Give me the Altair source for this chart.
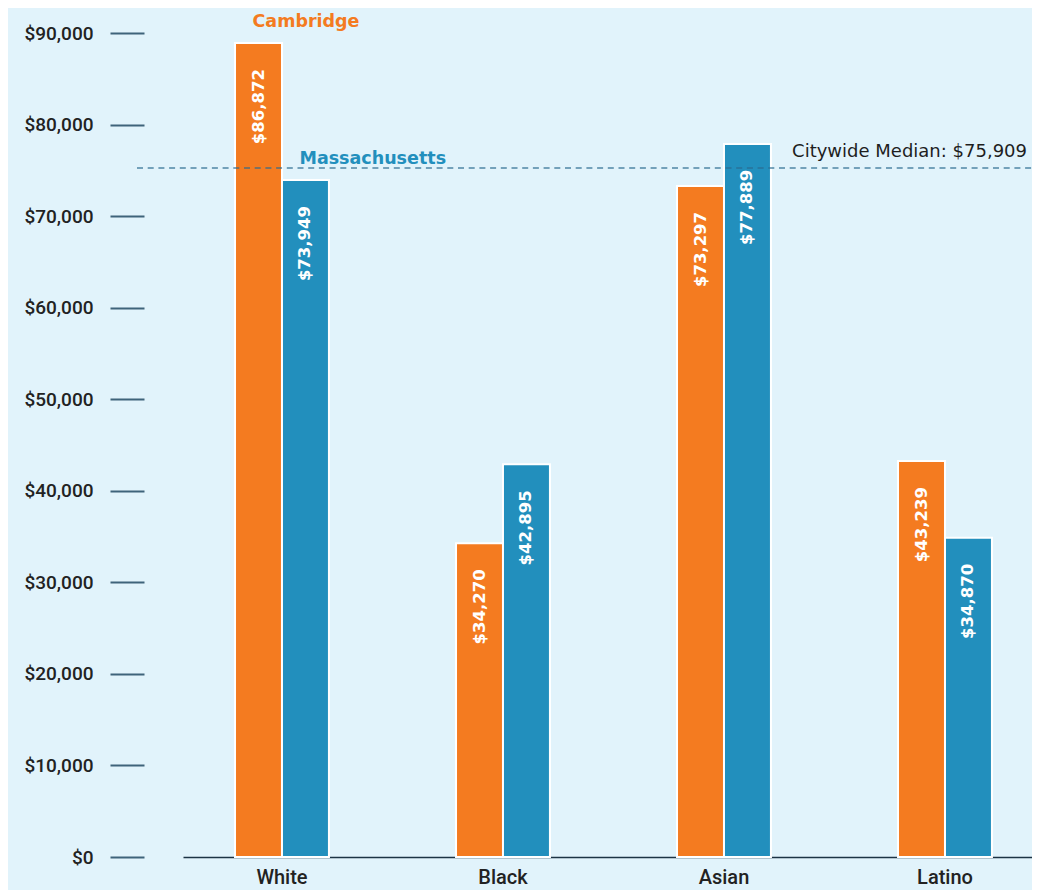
import altair as alt
import pandas as pd

# ---- data ----
groups = ["White", "Black", "Asian", "Latino"]
series = ["Cambridge", "Massachusetts"]
# bar heights as drawn in the reference
cambridge_bar = [88900, 34270, 73297, 43239]
massachusetts_bar = [73949, 42895, 77889, 34870]
# printed labels
cambridge_labels = ["$86,872", "$34,270", "$73,297", "$43,239"]
massachusetts_labels = ["$73,949", "$42,895", "$77,889", "$34,870"]
y_ticks = [0, 10000, 20000, 30000, 40000, 50000, 60000, 70000, 80000, 90000]
median_line = 75250
median_label = ["Citywide Median: $75,909"]

ORANGE = "#f47b20"
BLUE = "#228fbd"
BG = "#e1f3fb"
W, H = 849, 824

rows = []
for g, v, l in zip(groups, cambridge_bar, cambridge_labels):
    rows.append({"group": g, "series": "Cambridge", "value": v, "label": l})
for g, v, l in zip(groups, massachusetts_bar, massachusetts_labels):
    rows.append({"group": g, "series": "Massachusetts", "value": v, "label": l})
df = pd.DataFrame(rows)
med = pd.DataFrame({"value": [median_line], "label": median_label})

x_enc = alt.X(
    "group:N",
    sort=groups,
    scale=alt.Scale(paddingInner=0.575, paddingOuter=0.2083, align=0.565),
    axis=alt.Axis(
        title=None, labelAngle=0, ticks=False, grid=False,
        domainColor="#1c3344", domainWidth=1.5,
        labelFont="Roboto", labelFontSize=20, labelFontWeight=500,
        labelColor="#222222", labelPadding=10,
    ),
)
xo_enc = alt.XOffset("series:N", sort=series, scale=alt.Scale(paddingInner=0, paddingOuter=0))
y_enc = alt.Y(
    "value:Q",
    scale=alt.Scale(domain=[0, 90000], nice=False),
    axis=alt.Axis(
        title=None, values=y_ticks, format="$,.0f", grid=False, domain=False,
        tickSize=34, tickWidth=2, tickColor="#3e637a", offset=39, labelPadding=17,
        labelFont="Roboto", labelFontSize=19, labelFontWeight=500, labelColor="#222222",
    ),
)
color_enc = alt.Color("series:N", scale=alt.Scale(domain=series, range=[ORANGE, BLUE]), legend=None)

base = alt.Chart(df)

bars = base.mark_bar(stroke="white", strokeWidth=2).encode(
    x=x_enc, xOffset=xo_enc, y=y_enc, color=color_enc
)

bar_labels = base.mark_text(
    angle=270, align="right", baseline="middle", dx=-26,
    color="white", font="DejaVu Sans", fontWeight="bold", fontSize=16.5,
).encode(x=x_enc, xOffset=xo_enc, y=y_enc, text="label:N")

series_labels = base.transform_filter(alt.datum.group == groups[0]).mark_text(
    align="left", baseline="alphabetic", dx=-6, dy=-16,
    font="DejaVu Sans", fontWeight="bold", fontSize=17.5,
).encode(x=x_enc, xOffset=xo_enc, y=y_enc, text="series:N", color=color_enc)

median_rule = alt.Chart(med).mark_rule(
    strokeDash=[6, 4.7], strokeWidth=2, color="#2a6a90", opacity=0.6
).encode(y=y_enc, x=alt.value(-46), x2=alt.value(W))

median_text = alt.Chart(med).mark_text(
    align="right", baseline="alphabetic", dy=-11, dx=-5,
    font="DejaVu Sans", fontSize=18, color="#1e1e1e",
).encode(y=y_enc, x=alt.value(W), text="label:N")

chart = alt.layer(bars, bar_labels, median_rule, median_text, series_labels).properties(
    width=W,
    height=H,
    padding={"left": 175, "top": 25, "right": 0, "bottom": 35},
    autosize=alt.AutoSizeParams(type="none"),
    background=BG,
).configure_view(stroke=None)

chart.save("out.html", embed_options={"renderer": "svg", "actions": False})
